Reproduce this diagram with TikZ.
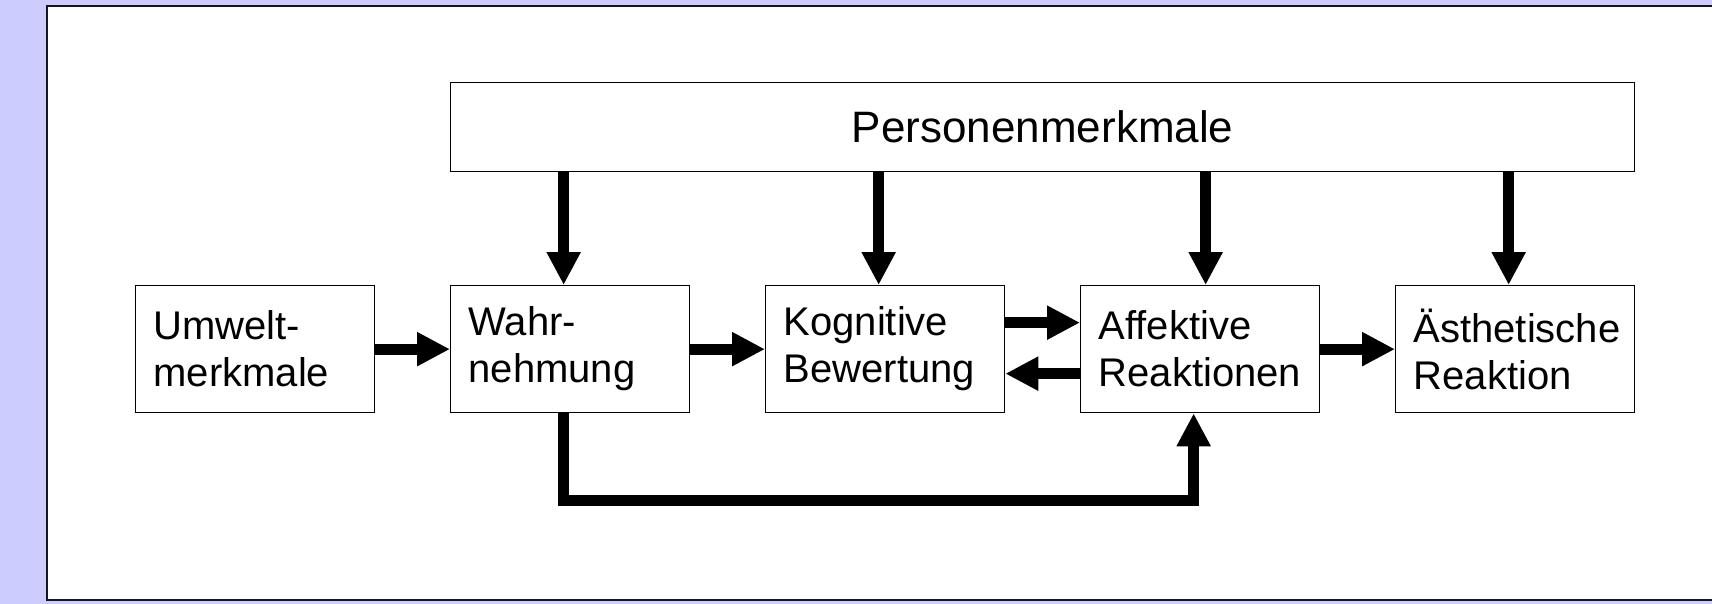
\documentclass[tikz,border=0pt]{standalone}
\usepackage{fontspec}
\setmainfont{Liberation Sans}
\usetikzlibrary{arrows.meta}
\definecolor{bglav}{RGB}{204,204,255}
\definecolor{framecol}{RGB}{20,20,35}
\begin{document}
\begin{tikzpicture}[x=1pt,y=-1pt,
  box/.style={draw=black, line width=1.3pt, fill=white, minimum height=127pt,
    minimum width=239pt, text width=203pt, inner xsep=18pt, inner ysep=0pt,
    align=left, font=\fontsize{40}{47}\selectfont, anchor=north west},
  flow/.style={line width=11pt, line join=miter, -{Triangle[length=33pt,width=32pt]}}
]
\useasboundingbox (0,0) rectangle (1712,604);
\fill[bglav] (0,0) rectangle (1712,604);
\draw[framecol, line width=2.5pt, fill=white] (47,6) rectangle (1730,600);

\node[box] (umw) at (135,285) {Umwelt-\\merkmale};
\node[box] (wahr) at (450,285) {Wahr-\\nehmung};
\node[box] (kog) at (765,285) {Kognitive\\Bewertung};
\node[box] (aff) at (1080,285) {Affektive\\Reaktionen};
\node[box] (aest) at (1395,285) {Ästhetische\\Reaktion};
\node[draw=black, line width=1.3pt, fill=white, minimum width=1184pt, minimum height=89pt,
  anchor=north west, font=\fontsize{44}{50}\selectfont] (pers) at (450,82) {Personenmerkmale};

\draw[flow] ([xshift=-6.5pt]wahr.north |- pers.south) -- ([xshift=-6.5pt]wahr.north);
\draw[flow] ([xshift=-6.5pt]kog.north |- pers.south) -- ([xshift=-6.5pt]kog.north);
\draw[flow] ([xshift=5.5pt]aff.north |- pers.south) -- ([xshift=5.5pt]aff.north);
\draw[flow] ([xshift=-6.5pt]aest.north |- pers.south) -- ([xshift=-6.5pt]aest.north);

\draw[flow] (umw.east) -- (wahr.west);
\draw[flow] (wahr.east) -- (kog.west);
\draw[flow] ([yshift=26.5pt]kog.east) -- ([yshift=26.5pt]aff.west);
\draw[flow] ([yshift=-24.5pt]aff.west) -- ([yshift=-24.5pt]kog.east);
\draw[flow] (aff.east) -- (aest.west);
\draw[flow] ([xshift=-6.5pt]wahr.south) -- ++(0,87) -| ([xshift=-6.5pt]aff.south);
\end{tikzpicture}
\end{document}
